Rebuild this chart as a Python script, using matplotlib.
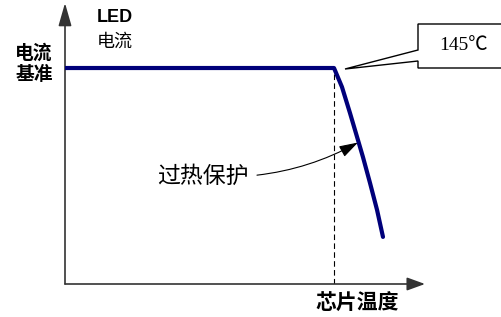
import matplotlib
matplotlib.use('Agg')
from matplotlib import pyplot as plt
from matplotlib.patches import Polygon

plt.rcParams['font.family'] = ['Noto Sans CJK SC', 'DejaVu Sans']

# LED current vs chip temperature (current normalised to the reference level)
temp = [0, 145, 149.3, 153.6, 157.9, 160.6, 164.4, 168.2, 171.4]
current = [1.0, 1.0, 0.912, 0.792, 0.667, 0.588, 0.468, 0.343, 0.218]
knee_temp = 145
knee_label = '145℃'
y_label = '电流\n基准'
x_label = '芯片温度'
curve_label = '过热保护'

W, H = 502, 317


def px(x, y):
    # pixel position (top-left origin) -> figure fraction
    return x / W, 1 - y / H


fig = plt.figure(figsize=(W / 100, H / 100), dpi=100)
ax = fig.add_axes([65 / W, 33 / H, 360 / W, 281 / H])
ax.set_xlim(0, 194.05)
ax.set_ylim(0, 1.301)
ax.axis('off')

# axes with arrow heads
ax.annotate('', xy=(1, 0), xytext=(0, 0), xycoords='axes fraction',
            arrowprops=dict(arrowstyle='-|>,head_length=1.1,head_width=0.4',
                            color='#333333', lw=1.2, shrinkA=0, shrinkB=0))
ax.annotate('', xy=(0, 1), xytext=(0, 0), xycoords='axes fraction',
            arrowprops=dict(arrowstyle='-|>,head_length=1.4,head_width=0.4',
                            color='#333333', lw=1.2, shrinkA=0, shrinkB=0))

ax.vlines(knee_temp, 0, 1.0, colors='black', linestyles=(0, (5, 3)), lw=0.8)
ax.plot(temp, current, color='#00007a', lw=3, solid_capstyle='round',
        solid_joinstyle='round', zorder=3)

# overheat protection annotation
ax.annotate(curve_label, xy=(157.9, 0.655), xytext=(99.0, 0.50),
            fontsize=16.5, ha='right', va='center',
            arrowprops=dict(arrowstyle='-|>,head_length=0.7,head_width=0.22',
                            color='black', lw=0.8, shrinkA=4, shrinkB=0,
                            connectionstyle='arc3,rad=0.15'))

# callout box with 145 label
pts = [(418, 24), (505, 24), (505, 68), (418, 68), (418, 61), (345, 69), (418, 50)]
fig.patches.append(Polygon([px(x, y) for x, y in pts], closed=True,
                           transform=fig.transFigure, facecolor='white',
                           edgecolor='black', lw=1, zorder=5))
fig.text(*px(464, 46), knee_label, ha='center', va='center', fontsize=14,
         family=['Liberation Serif', 'Noto Sans CJK SC'], zorder=6)

fig.text(*px(115, 18), 'LED', ha='center', va='center', fontsize=13,
         fontweight='bold', family=['Liberation Sans'])
fig.text(*px(115, 42), '电流', ha='center', va='center', fontsize=13)
fig.text(*px(34, 64), y_label, ha='center', va='center', fontsize=13.5,
         fontweight='bold', linespacing=1.15)
fig.text(*px(357, 303), x_label, ha='center', va='center', fontsize=15,
         fontweight='bold')

fig.savefig('out.png', dpi=100)
